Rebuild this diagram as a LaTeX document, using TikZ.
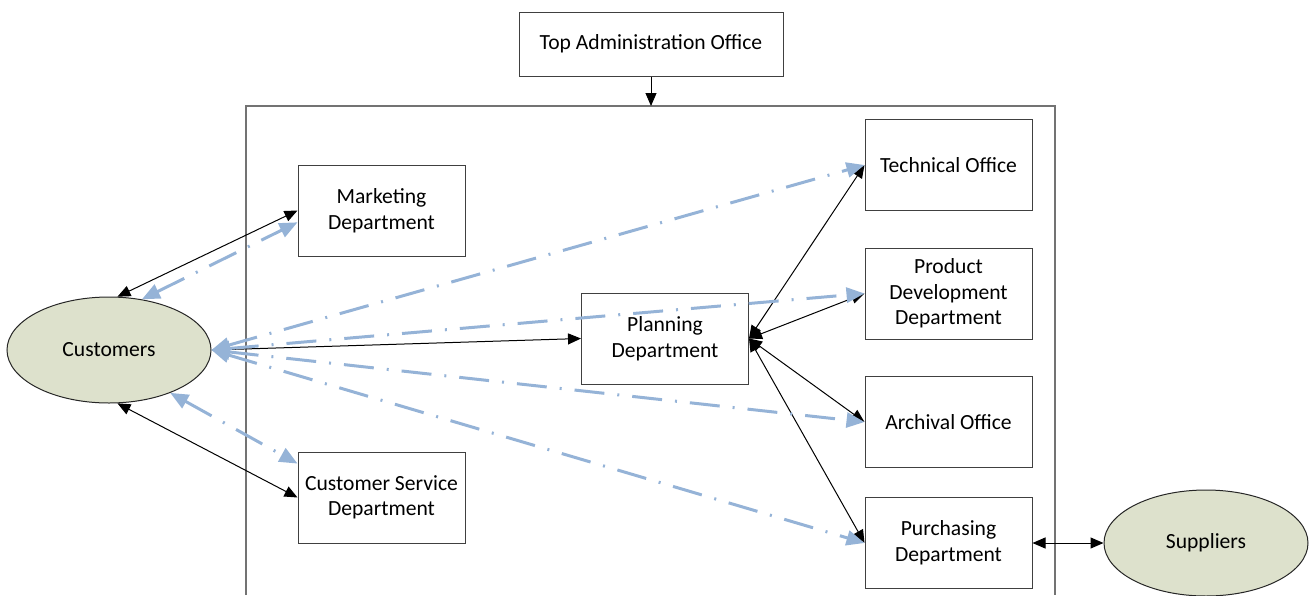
\documentclass[tikz,border=0pt]{standalone}
\usepackage{fontspec}
\setmainfont{Carlito}
\usetikzlibrary{arrows.meta,shapes.geometric}
\definecolor{flowblue}{RGB}{149,179,215}
\definecolor{partyfill}{RGB}{221,225,204}

\begin{document}
\begin{tikzpicture}[x=0.5pt, y=-0.5pt,
        box/.style={rectangle, draw=black!75, line width=0.5pt, minimum width=83.5pt, minimum height=45.5pt, align=center, inner sep=1pt, font=\fontsize{10.8}{12.8}\selectfont},
        party/.style={ellipse, draw=black!85, line width=0.5pt, fill=partyfill, minimum width=102pt, minimum height=53pt, inner sep=0pt, font=\fontsize{10.8}{12.8}\selectfont},
        link/.style={{Triangle[length=6.5pt,width=5.5pt]}-{Triangle[length=6.5pt,width=5.5pt]}, line width=0.5pt},
        down/.style={-{Triangle[length=6.5pt,width=5.5pt]}, line width=0.5pt},
        flow/.style={{Triangle[length=9pt,width=7.5pt]}-{Triangle[length=9pt,width=7.5pt]}, draw=flowblue, line width=1.5pt, dash pattern=on 15pt off 6.5pt on 1pt off 6.5pt}
    ]
        \useasboundingbox (0,0) rectangle (1312,595);

        % company frame
        \draw[draw=black!55, line width=0.6pt] (246,595) |- (1055,106) -- (1055,595);
        \coordinate (frametop) at (651,106);

        \node[box, minimum width=132pt, minimum height=32pt] (top) at (651,44) {Top Administration Office};
        \node[box] (mkt) at (381.5,210.5) {Marketing\\Department};
        \node[box] (csd) at (381.5,497.5) {Customer Service\\Department};
        \node[box] (pln) at (665,338.5) {Planning\\Department};
        \node[box] (tech) at (948.5,165) {Technical Office};
        \node[box] (prd) at (948.5,293.5) {Product\\Development\\Department};
        \node[box] (arc) at (948.5,422) {Archival Office};
        \node[box] (pur) at (948.5,543) {Purchasing\\Department};
        \node[party] (cust) at (109,350) {Customers};
        \node[party] (sup) at (1206,543) {Suppliers};

        % black links
        \draw[down] (top.south) -- (frametop);
        \draw[link] (cust.81) -- (mkt.west);
        \draw[link] (cust.279) -- (csd.west);
        \draw[link] (cust.east) -- (pln.west);
        \foreach \t in {tech,prd,arc,pur}
            \draw[link] (pln.east) -- (\t.west);
        \draw[link] (pur.east) -- (sup.west);

        % blue information flows
        \draw[flow] (cust.57) -- (mkt.188);
        \draw[flow] (cust.-35) -- (csd.158);
        \foreach \t in {tech,prd,arc,pur}
            \draw[flow] (cust.east) -- (\t.west);
    \end{tikzpicture}
\end{document}
